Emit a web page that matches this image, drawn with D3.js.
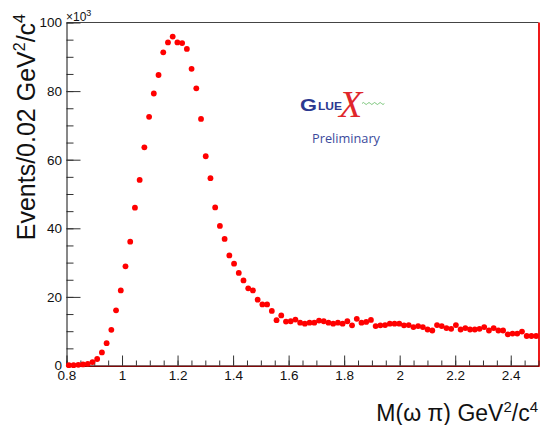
<!DOCTYPE html>
<html>
<head>
<meta charset="utf-8">
<title>M(omega pi) GlueX preliminary</title>
<script src="https://d3js.org/d3.v7.min.js"></script>
<style>
  body { margin: 0; background: #fff; }
  svg { display: block; font-family: "Liberation Sans", Arial, Helvetica, sans-serif; }
</style>
</head>
<body>
<svg id="chart"></svg>
<script>
// histogram: 100 bins between 0.8 and 2.5, contents in units of 10^3 events
var binLow = 0.8, binHigh = 2.5;
var counts = [
  0.1, 0.1, 0.2, 0.3, 0.5, 1.0, 1.9, 3.8, 6.5, 10.4,
  16.1, 21.9, 28.9, 36.1, 46.0, 54.1, 63.6, 72.5, 79.3, 84.7,
  91.3, 94.2, 95.9, 94.2, 94.0, 92.3, 86.5, 80.8, 71.9, 61.0,
  54.6, 46.1, 40.7, 36.9, 32.1, 29.7, 27.0, 24.8, 22.5, 21.9,
  19.2, 17.8, 17.8, 15.9, 13.2, 14.6, 12.8, 12.9, 13.4, 12.5,
  12.2, 12.5, 12.5, 13.1, 12.9, 12.5, 12.2, 12.5, 12.2, 12.9,
  11.7, 13.6, 12.5, 12.7, 13.3, 11.5, 11.7, 11.8, 12.2, 12.2,
  12.2, 11.7, 11.8, 11.2, 11.5, 11.2, 10.5, 10.2, 11.8, 11.5,
  10.9, 10.7, 11.8, 10.5, 10.9, 10.5, 10.5, 10.7, 11.2, 10.2,
  10.9, 10.2, 10.2, 9.1, 9.3, 9.3, 9.9, 8.6, 8.6, 8.6
];
var xTicks = [0.8, 1, 1.2, 1.4, 1.6, 1.8, 2, 2.2, 2.4];
var yTicks = [0, 20, 40, 60, 80, 100];

var binWidth = (binHigh - binLow) / counts.length;
var data = counts.map(function(c, i) {
  return { x: binLow + binWidth * (i + 0.5), y: c };
});

var W = 540, H = 425;
var frame = { left: 66.5, right: 538.5, top: 22.5, bottom: 365.5 };

var svg = d3.select("#chart").attr("width", W).attr("height", H);

var x = d3.scaleLinear().domain([binLow, binHigh]).range([frame.left, frame.right]);
var y = d3.scaleLinear().domain([0, 100]).range([frame.bottom, frame.top]);

// top frame line
svg.append("line")
  .attr("x1", frame.left).attr("x2", frame.right)
  .attr("y1", frame.top).attr("y2", frame.top)
  .attr("stroke", "#444").attr("stroke-width", 1);

// red histogram outline along bottom and right
svg.append("line")
  .attr("x1", frame.left).attr("x2", frame.right + 1)
  .attr("y1", frame.bottom + 0.8).attr("y2", frame.bottom + 0.8)
  .attr("stroke", "#e00").attr("stroke-width", 1.2);
svg.append("line")
  .attr("x1", frame.right + 0.5).attr("x2", frame.right + 0.5)
  .attr("y1", frame.top).attr("y2", frame.bottom + 1)
  .attr("stroke", "#e00").attr("stroke-width", 1.8);

// x axis (ticks point into the frame)
var xMinor = d3.range(0.8, 2.5001, 0.05);
svg.append("g")
  .attr("transform", "translate(0," + frame.bottom + ")")
  .call(d3.axisBottom(x).tickValues(xMinor).tickSize(-5).tickSizeOuter(0).tickFormat(""))
  .call(function(g) { g.select(".domain").remove(); });
var gx = svg.append("g")
  .attr("transform", "translate(0," + frame.bottom + ")")
  .call(d3.axisBottom(x).tickValues(xTicks).tickSize(-10).tickSizeOuter(0)
    .tickPadding(5).tickFormat(d3.format("~g")));

// y axis
var yMinor = d3.range(0, 100.01, 5);
svg.append("g")
  .attr("transform", "translate(" + frame.left + ",0)")
  .call(d3.axisLeft(y).tickValues(yMinor).tickSize(-7).tickSizeOuter(0).tickFormat(""))
  .call(function(g) { g.select(".domain").remove(); });
var gy = svg.append("g")
  .attr("transform", "translate(" + frame.left + ",0)")
  .call(d3.axisLeft(y).tickValues(yTicks).tickSize(-14).tickSizeOuter(0)
    .tickPadding(4.5).tickFormat(d3.format("d")));

svg.selectAll(".tick line").attr("stroke", "#333");
svg.selectAll(".domain").attr("stroke", "#111");
[gx, gy].forEach(function(g) {
  g.attr("font-family", null).attr("font-size", null);
  g.selectAll("text").attr("font-size", 13.5).attr("fill", "#111");
});

// exponent label
var ex = svg.append("text").attr("x", 66).attr("y", 20.5)
  .attr("font-size", 12).attr("fill", "#111");
ex.append("tspan").text("\u00d710");
ex.append("tspan").attr("font-size", 9).attr("dy", -5).text("3");

// axis titles
var yt = svg.append("text")
  .attr("transform", "translate(35,14) rotate(-90)")
  .attr("text-anchor", "end").attr("font-size", 25).attr("fill", "#111");
yt.append("tspan").text("Events/0.02 GeV");
yt.append("tspan").attr("font-size", 16).attr("dy", -10).text("2");
yt.append("tspan").attr("dy", 10).text("/c");
yt.append("tspan").attr("font-size", 16).attr("dy", -10).text("4");

var xt = svg.append("text")
  .attr("x", 538).attr("y", 421)
  .attr("text-anchor", "end").attr("font-size", 23).attr("fill", "#111");
xt.append("tspan").text("M(\u03c9 \u03c0) GeV");
xt.append("tspan").attr("font-size", 15).attr("dy", -9).text("2");
xt.append("tspan").attr("dy", 9).text("/c");
xt.append("tspan").attr("font-size", 15).attr("dy", -9).text("4");

// GlueX logo
var logo = svg.append("g");
logo.append("text").attr("x", 300).attr("y", 111)
  .attr("font-size", 16.5).attr("font-weight", "bold").attr("fill", "#2b3990")
  .attr("textLength", 17).attr("lengthAdjust", "spacingAndGlyphs").text("G");
logo.append("text").attr("x", 318).attr("y", 110)
  .attr("font-size", 11).attr("font-weight", "bold").attr("fill", "#2b3990")
  .attr("textLength", 24).attr("lengthAdjust", "spacingAndGlyphs").text("LUE");
logo.append("text").attr("x", 339).attr("y", 117)
  .attr("font-family", "'Liberation Serif', serif").attr("font-style", "italic")
  .attr("font-size", 38).attr("fill", "#e0262b").text("X");
logo.append("path")
  .attr("d", "M362,103.5 q1.4,-2 2.8,0 t2.8,0 t2.8,0 t2.8,0 t2.8,0 t2.8,0 t2.8,0 t2.8,0")
  .attr("fill", "none").attr("stroke", "#5cb85c").attr("stroke-width", 0.8);
logo.append("text").attr("x", 312).attr("y", 143)
  .attr("font-family", "'Open Sans', 'Noto Sans', sans-serif")
  .attr("font-size", 13.5).attr("fill", "#3b4a9c")
  .attr("textLength", 68).attr("lengthAdjust", "spacingAndGlyphs").text("Preliminary");

// data points
svg.append("g").selectAll("circle")
  .data(data)
  .join("circle")
  .attr("cx", function(d) { return x(d.x); })
  .attr("cy", function(d) { return y(d.y); })
  .attr("r", 2.9)
  .attr("fill", "#ff0000");
</script>
</body>
</html>
